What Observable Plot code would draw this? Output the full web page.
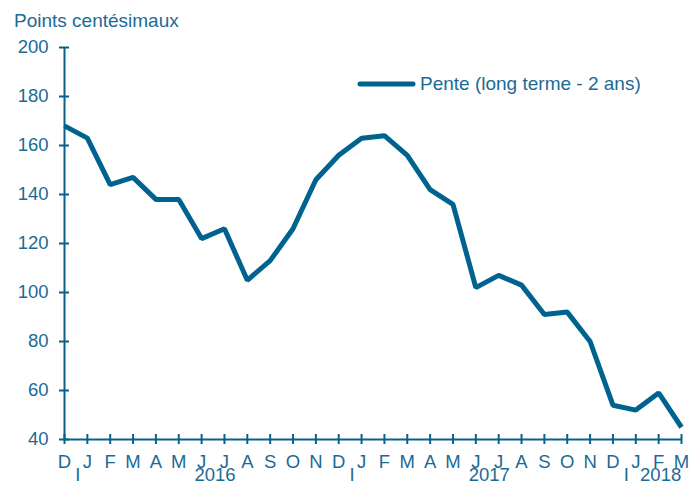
<!DOCTYPE html>
<html>
<head>
<meta charset="utf-8">
<script src="https://cdn.jsdelivr.net/npm/d3@7"></script>
<script src="https://cdn.jsdelivr.net/npm/@observablehq/plot@0.6"></script>
<style>
  html, body { margin: 0; padding: 0; background: #fff; }
  #wrap { position: relative; width: 700px; height: 483px; font-family: "Liberation Sans", Arial, sans-serif; color: #1b6a96; }
  #title { position: absolute; left: 14px; top: 11px; font-size: 19px; line-height: 19px; white-space: nowrap; }
  #legend { position: absolute; left: 357px; top: 74px; font-size: 19px; line-height: 19px; white-space: nowrap; display: flex; align-items: center; }
  #legend svg { margin-right: 4px; }
  #chart svg { display: block; }
</style>
</head>
<body>
<div id="wrap">
  <div id="chart"></div>
  <div id="title">Points centésimaux</div>
  <div id="legend"><svg width="59" height="10"><line x1="3" y1="5" x2="56" y2="5" stroke="#00628f" stroke-width="5" stroke-linecap="round"/></svg><span>Pente (long terme - 2 ans)</span></div>
</div>
<script>
// Month tick labels (Dec 2015 .. Mar 2018)
const months = ["D","J","F","M","A","M","J","J","A","S","O","N","D","J","F","M","A","M","J","J","A","S","O","N","D","J","F","M"];
// Series: Pente (long terme - 2 ans), points centésimaux
const pente = [168,163,144,147,138,138,122,126,105,113,126,146,156,163,164,156,142,136,102,107,103,91,92,80,54,52,59,45];
// Y ticks
const yTicks = [40,60,80,100,120,140,160,180,200];
// Year labels and their position along the month index
const years = ["2016","2017","2018"];
const yearPos = [6.5, 18.5, 26];
// Year separators (between December and January)
const yearBreaks = [0.5, 12.5, 24.5];

const data = pente.map((v, i) => ({i, v}));
const idx = months.map((_, i) => i);
const axisColor = "#0b6089";
const textColor = "#1b6a96";
const lineColor = "#00628f";

const chart = Plot.plot({
  width: 700,
  height: 483,
  marginLeft: 64,
  marginRight: 19,
  marginTop: 47,
  marginBottom: 44,
  style: { fontFamily: "'Liberation Sans', Arial, sans-serif", fontSize: "18.5px", color: textColor, background: "white", overflow: "visible" },
  x: { type: "linear", domain: [0, months.length - 1] },
  y: { domain: [40, 200] },
  marks: [
    Plot.ruleX([0], { stroke: axisColor, strokeWidth: 2 }),
    Plot.ruleY([40], { stroke: axisColor, strokeWidth: 2 }),
    Plot.axisY({ ticks: yTicks, tickSize: 10, dx: 5, tickFormat: () => "", stroke: axisColor, strokeWidth: 2, label: null }),
    Plot.axisY({ ticks: yTicks, tickSize: 0, tickPadding: 16, fill: textColor, label: null }),
    Plot.axisX({ ticks: idx, tickSize: 10, dy: -5, tickFormat: () => "", stroke: axisColor, strokeWidth: 2, label: null }),
    Plot.axisX({ ticks: idx, tickSize: 0, tickPadding: 15, tickFormat: i => months[i], fill: textColor, label: null }),
    Plot.text(years, { x: (d, k) => yearPos[k], text: d => d, frameAnchor: "bottom", dy: 36, dx: 2, fill: textColor, lineAnchor: "middle" }),
    Plot.text(yearBreaks, { x: d => d, text: () => "I", frameAnchor: "bottom", dy: 36, dx: 2, fill: textColor, lineAnchor: "middle" }),
    Plot.line(data, { x: "i", y: "v", stroke: lineColor, strokeWidth: 5, strokeLinejoin: "miter", strokeLinecap: "butt" })
  ]
});
document.getElementById("chart").appendChild(chart);
</script>
</body>
</html>
